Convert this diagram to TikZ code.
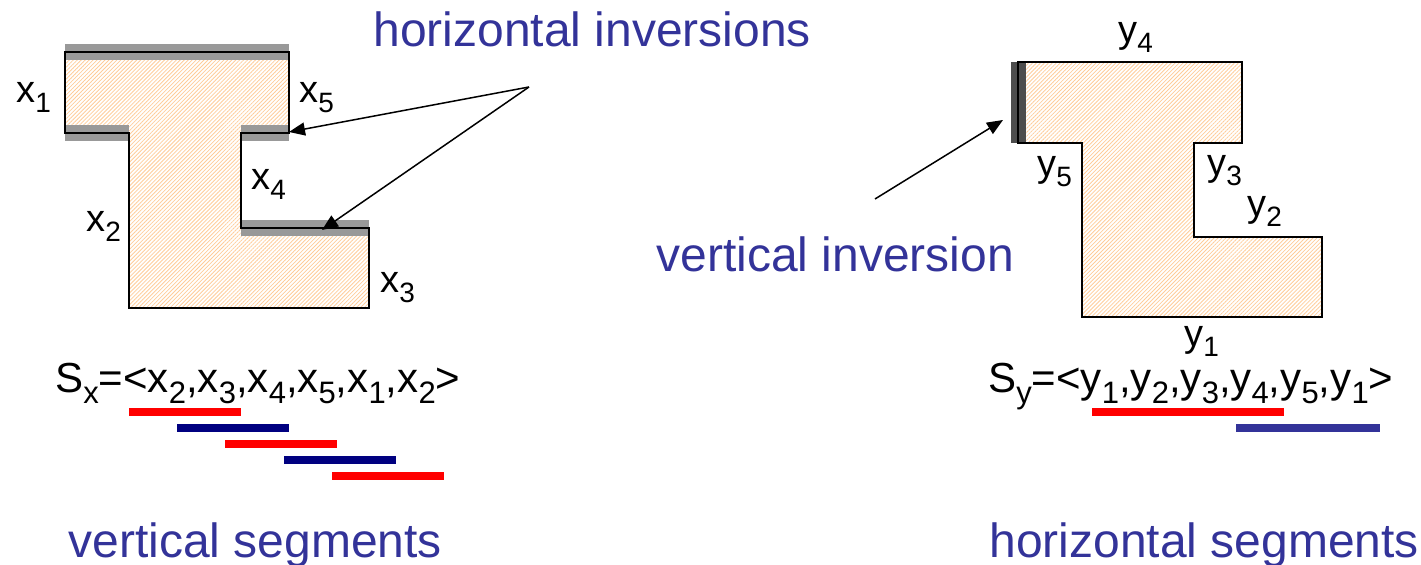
\documentclass[tikz,border=0pt]{standalone}
\usepackage{fontspec}
\setmainfont{Liberation Sans}
\usetikzlibrary{arrows.meta,patterns.meta}
\definecolor{txtblue}{HTML}{333399}
\definecolor{navyb}{HTML}{000080}
\definecolor{hatchc}{HTML}{FFCC99}
\definecolor{invgray}{HTML}{999999}
\definecolor{invdark}{HTML}{4D4D4D}
\newcommand\mysub[1]{\raisebox{-5pt}{\fontsize{14}{14}\selectfont #1}}
\newcommand\fsub[1]{\raisebox{-5.5pt}{\fontsize{15.5}{15.5}\selectfont #1}}
\begin{document}
\begin{tikzpicture}[x=0.5pt,y=-0.5pt,
  lbl/.style={inner sep=0pt,anchor=base west,font=\fontsize{19}{22}\selectfont},
  flbl/.style={inner sep=0pt,anchor=base west,font=\fontsize{21}{24}\selectfont},
  ttl/.style={inner sep=0pt,anchor=base west,font=\fontsize{24}{28}\selectfont,text=txtblue},
  hatchfill/.style={pattern={Lines[angle=45,distance=1.4pt,line width=0.4pt]},pattern color=hatchc},
  outline/.style={draw=black,line width=1pt,line join=miter},
  invbar/.style={draw=invgray,line width=8pt},
  vinvbar/.style={draw=invdark,line width=7.5pt},
  redbar/.style={draw=red,line width=4pt},
  bluebar/.style={draw=navyb,line width=4pt},
  bluebarb/.style={draw=txtblue,line width=4pt},
  arr/.style={draw=black,line width=0.75pt,-{Triangle[length=8pt,width=6.5pt]}}
]
\useasboundingbox (0,0) rectangle (1421,565);

% ---- left shape ----
\path[hatchfill] (65,52) -- (289,52) -- (289,133) -- (241,133) -- (241,228) -- (369,228) -- (369,308) -- (129,308) -- (129,133) -- (65,133) -- cycle;
\draw[invbar] (65,52) -- (289,52);
\draw[invbar] (65,133) -- (129,133);
\draw[invbar] (241,133) -- (289,133);
\draw[invbar] (241,228) -- (369,228);
\draw[outline] (65,52) -- (289,52) -- (289,133) -- (241,133) -- (241,228) -- (369,228) -- (369,308) -- (129,308) -- (129,133) -- (65,133) -- cycle;

\node[lbl] (x1) at (16,103) {x\mysub{1}};
\node[lbl] (x5) at (299,103) {x\mysub{5}};
\node[lbl] (x4) at (251,190) {x\mysub{4}};
\node[lbl] (x2) at (86,232) {x\mysub{2}};
\node[lbl] (x3) at (380,293) {x\mysub{3}};

\node[ttl] (hinv) at (373,47) {horizontal inversions};
\coordinate (hsrc) at (529,87);
\coordinate (hinv1) at (289,132);
\coordinate (hinv2) at (322,230);
\draw[arr] (hsrc) -- (hinv1);
\draw[arr] (hsrc) -- (hinv2);

\node[flbl] (sx) at (55,393) {S\fsub{x}=<x\fsub{2},x\fsub{3},x\fsub{4},x\fsub{5},x\fsub{1},x\fsub{2}>};
\draw[redbar] (129,412) -- (241,412);
\draw[bluebar] (177,428) -- (289,428);
\draw[redbar] (225,444) -- (337,444);
\draw[bluebar] (284,460) -- (396,460);
\draw[redbar] (332,476) -- (444,476);

\node[ttl] (vseg) at (68,558) {vertical segments};

% ---- right shape ----
\path[hatchfill] (1018,62) -- (1242,62) -- (1242,143) -- (1194,143) -- (1194,237) -- (1322,237) -- (1322,317) -- (1082,317) -- (1082,143) -- (1018,143) -- cycle;
\draw[vinvbar] (1018,62) -- (1018,143);
\draw[outline] (1018,62) -- (1242,62) -- (1242,143) -- (1194,143) -- (1194,237) -- (1322,237) -- (1322,317) -- (1082,317) -- (1082,143) -- (1018,143) -- cycle;

\node[lbl] (y4) at (1118,43) {y\mysub{4}};
\node[lbl] (y5) at (1037,177) {y\mysub{5}};
\node[lbl] (y3) at (1207,176) {y\mysub{3}};
\node[lbl] (y2) at (1247,217) {y\mysub{2}};
\node[lbl] (y1) at (1184,347) {y\mysub{1}};

\node[ttl] (vinv) at (656,272) {vertical inversion};
\coordinate (vsrc) at (875,199);
\coordinate (vinvtip) at (1003,120);
\draw[arr] (vsrc) -- (vinvtip);

\node[flbl] (sy) at (988,393) {S\fsub{y}=<y\fsub{1},y\fsub{2},y\fsub{3},y\fsub{4},y\fsub{5},y\fsub{1}>};
\draw[redbar] (1092,412) -- (1284,412);
\draw[bluebarb] (1236,428) -- (1380,428);

\node[ttl] (hseg) at (989,558) {horizontal segments};
\end{tikzpicture}
\end{document}
